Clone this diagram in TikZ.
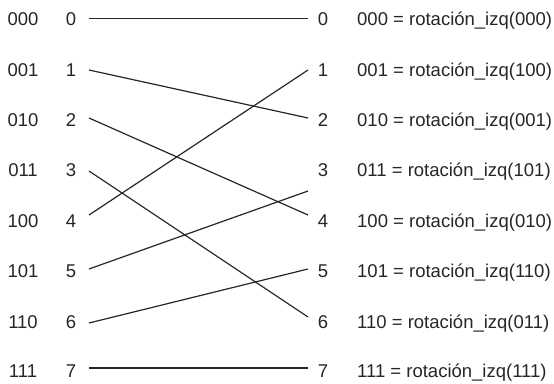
\documentclass[tikz,border=0pt]{standalone}
\usepackage{fontspec}
\setmainfont{Liberation Sans}
\begin{document}
\begin{tikzpicture}[x=1pt,y=-1pt,
  lbl/.style={font=\fontsize{18.5}{20}\selectfont, text=black!85, inner sep=0pt, anchor=base},
  eqlbl/.style={lbl, anchor=base west},
  wire/.style={line width=1.2pt, draw=black!85}]
\useasboundingbox (0,0) rectangle (554,383);
\foreach \i/\b/\y/\r in {0/000/19/000, 1/001/70/100, 2/010/120/001, 3/011/170/101,
                         4/100/221/010, 5/101/271/110, 6/110/322/011, 7/111/371/111}{
  \node[lbl] (bin\i) at (23,\y+6.6) {\b};
  \node[lbl] (l\i) at (71,\y+6.6) {\i};
  \node[lbl] (r\i) at (323,\y+6.6) {\i};
  \node[eqlbl] (eq\i) at (357,\y+6.6) {\b{} = rotación\_izq(\r)};
}
% line end points
\coordinate (a0) at (89,18.5);  \coordinate (b0) at (308,18.5);
\coordinate (a1) at (89,70);  \coordinate (b1) at (308,70);
\coordinate (a2) at (89,118); \coordinate (b2) at (308,118);
\coordinate (a3) at (89,171); \coordinate (b3) at (308,191);
\coordinate (a4) at (89,215); \coordinate (b4) at (308,215);
\coordinate (a5) at (89,269); \coordinate (b5) at (308,269);
\coordinate (a6) at (89,323); \coordinate (b6) at (308,317);
\coordinate (a7) at (89,368); \coordinate (b7) at (308,368);
\draw[wire] (a0) -- (b0);
\draw[wire] (a1) -- (b2);
\draw[wire] (a2) -- (b4);
\draw[wire] (a3) -- (b6);
\draw[wire] (a4) -- (b1);
\draw[wire] (a5) -- (b3);
\draw[wire] (a6) -- (b5);
\draw[wire] (a7) -- (b7);
\end{tikzpicture}
\end{document}
